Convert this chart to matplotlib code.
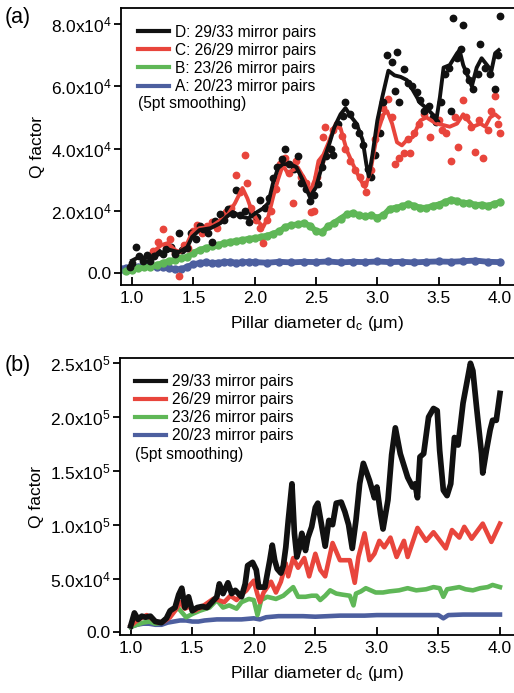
import matplotlib
matplotlib.use("Agg")
import matplotlib.pyplot as plt
from matplotlib.lines import Line2D
import numpy as np

plt.rcParams["font.family"] = ["Liberation Sans", "DejaVu Sans"]
plt.rcParams["mathtext.fontset"] = "custom"
plt.rcParams["mathtext.rm"] = "Liberation Sans"
plt.rcParams["mathtext.it"] = "Liberation Sans:italic"

# ---- panel (a): measured points and 5pt smoothed lines, Q in units of 1e3 ----
d_line_x = [1.00, 1.05, 1.10, 1.17, 1.23, 1.31, 1.38, 1.45, 1.49, 1.55, 1.64, 1.72,
            1.77, 1.82, 1.90, 1.95, 2.02, 2.07, 2.11, 2.15, 2.19, 2.23, 2.29, 2.34,
            2.39, 2.45, 2.50, 2.56, 2.61, 2.65, 2.70, 2.74, 2.79, 2.83, 2.88, 2.91,
            2.93, 2.96, 3.00, 3.04, 3.09, 3.14, 3.19, 3.24, 3.29, 3.35, 3.40, 3.45,
            3.48, 3.51, 3.54, 3.59, 3.65, 3.67, 3.70, 3.74, 3.77, 3.81, 3.85, 3.89,
            3.93, 3.96, 3.99]
d_line_q = [4.0, 5.0, 5.0, 5.0, 6.4, 7.4, 6.7, 8.3, 11.6, 13.8, 14.4, 16.0,
            18.0, 19.6, 18.0, 17.6, 19.6, 20.8, 22.4, 29.0, 33.7, 35.0, 35.0, 34.0,
            30.0, 24.4, 27.6, 36.0, 41.7, 46.9, 51.0, 53.0, 50.0, 48.0, 42.7, 35.0,
            31.0, 38.0, 49.0, 56.5, 65.0, 63.5, 63.0, 62.0, 58.7, 54.6, 53.0, 51.0,
            49.0, 56.5, 66.0, 66.8, 70.6, 71.6, 66.8, 63.0, 60.0, 66.0, 69.0, 67.0,
            65.0, 70.6, 71.6]
d_pts_x = [0.98, 1.00, 1.03, 1.06, 1.09, 1.12, 1.15, 1.18, 1.21, 1.25, 1.28, 1.32,
           1.35, 1.38, 1.41, 1.45, 1.48, 1.52, 1.55, 1.58, 1.62, 1.65, 1.68, 1.72,
           1.75, 1.78, 1.82, 1.85, 1.88, 1.92, 1.95, 1.98, 2.02, 2.04, 2.08, 2.12,
           2.15, 2.18, 2.22, 2.25, 2.28, 2.32, 2.35, 2.38, 2.42, 2.45, 2.48, 2.52,
           2.55, 2.58, 2.62, 2.64, 2.68, 2.72, 2.74, 2.78, 2.82, 2.85, 2.88, 2.92,
           2.95, 2.98, 3.02, 3.05, 3.08, 3.12, 3.14, 3.16, 3.18, 3.22, 3.25, 3.28,
           3.32, 3.35, 3.38, 3.42, 3.45, 3.48, 3.52, 3.55, 3.58, 3.60, 3.62, 3.65,
           3.68, 3.70, 3.72, 3.75, 3.78, 3.82, 3.84, 3.88, 3.92, 3.96, 3.98, 4.00]
d_pts_q = [2.0, 3.2, 8.3, 5.6, 4.0, 5.8, 4.0, 5.4, 6.8, 6.0, 7.8, 8.2,
           6.0, 12.8, 7.4, 8.0, 13.0, 11.0, 15.0, 14.0, 13.0, 10.0, 16.8, 19.0,
           17.0, 20.5, 19.0, 26.6, 18.5, 20.0, 16.5, 19.0, 18.0, 23.4, 21.0, 24.0,
           30.5, 34.0, 36.5, 40.0, 35.0, 33.5, 37.5, 29.0, 27.0, 23.0, 25.0, 28.5,
           34.0, 37.5, 40.0, 38.0, 48.0, 50.5, 55.0, 51.0, 47.5, 45.0, 41.0, 33.5,
           31.0, 38.0, 45.0, 55.0, 70.0, 67.7, 58.4, 71.0, 55.0, 65.5, 61.0, 60.0,
           58.0, 55.5, 52.0, 53.5, 50.0, 48.5, 55.0, 64.0, 66.0, 52.0, 82.0, 69.0,
           72.0, 79.6, 65.0, 62.0, 59.0, 64.0, 73.5, 66.0, 64.0, 59.0, 70.0, 82.5]

c_line_x = [1.19, 1.24, 1.29, 1.35, 1.39, 1.45, 1.49, 1.55, 1.64, 1.70, 1.77, 1.84,
            1.90, 1.94, 1.98, 2.03, 2.07, 2.11, 2.15, 2.19, 2.23, 2.27, 2.31, 2.35,
            2.41, 2.45, 2.49, 2.52, 2.56, 2.60, 2.65, 2.70, 2.75, 2.80, 2.86, 2.90,
            2.94, 3.00, 3.05, 3.08, 3.12, 3.16, 3.20, 3.24, 3.29, 3.35, 3.40, 3.44,
            3.48, 3.54, 3.59, 3.65, 3.70, 3.74, 3.78, 3.84, 3.88, 3.92, 3.96, 3.99]
c_line_q = [7.4, 9.0, 9.6, 7.4, 6.7, 9.6, 13.0, 14.4, 14.8, 16.4, 18.0, 22.5,
            27.3, 24.0, 19.6, 16.4, 14.8, 18.0, 24.4, 30.0, 34.7, 32.0, 33.0, 34.0,
            30.0, 26.0, 30.0, 36.0, 38.0, 41.7, 47.0, 46.5, 39.5, 35.0, 30.0, 27.6,
            32.0, 45.0, 51.0, 52.0, 48.0, 42.0, 41.0, 42.7, 43.7, 49.0, 50.0, 49.0,
            48.0, 47.5, 47.0, 48.0, 51.0, 49.0, 47.0, 48.0, 47.0, 50.0, 51.0, 50.0]
c_pts_x = [1.17, 1.21, 1.25, 1.28, 1.31, 1.35, 1.38, 1.42, 1.46, 1.50, 1.53, 1.57,
           1.61, 1.65, 1.69, 1.73, 1.77, 1.81, 1.85, 1.88, 1.92, 1.94, 1.97, 2.01,
           2.04, 2.07, 2.10, 2.13, 2.17, 2.21, 2.25, 2.28, 2.31, 2.34, 2.38, 2.42,
           2.46, 2.48, 2.51, 2.54, 2.56, 2.57, 2.61, 2.64, 2.67, 2.71, 2.74, 2.78,
           2.82, 2.86, 2.89, 2.91, 2.95, 2.98, 3.02, 3.05, 3.09, 3.12, 3.14, 3.18,
           3.22, 3.25, 3.27, 3.30, 3.34, 3.38, 3.43, 3.46, 3.50, 3.53, 3.56, 3.60,
           3.63, 3.66, 3.70, 3.72, 3.76, 3.80, 3.83, 3.86, 3.90, 3.93, 3.96, 3.98, 4.00]
c_pts_q = [7.0, 10.0, 14.0, 8.0, 11.0, 6.5, -1.0, 9.0, 8.0, 13.5, 15.5, 13.0,
           15.0, 16.5, 14.5, 18.0, 19.5, 21.0, 31.5, 26.0, 37.9, 29.0, 21.0, 17.0,
           14.5, 9.6, 17.0, 20.0, 27.0, 35.0, 37.0, 32.0, 22.5, 36.0, 31.0, 29.0,
           19.6, 20.0, 31.0, 36.0, 43.7, 47.0, 40.0, 46.0, 48.0, 44.0, 40.0, 36.0,
           33.0, 31.0, 28.5, 26.0, 33.0, 43.0, 50.0, 53.0, 56.0, 50.0, 35.0, 37.0,
           38.5, 43.0, 38.5, 45.0, 48.0, 51.0, 43.7, 50.0, 49.0, 46.0, 45.0, 36.0,
           50.0, 40.5, 55.5, 50.0, 47.0, 38.8, 49.0, 37.0, 46.0, 52.0, 57.0, 48.0, 45.0]

b_x = [0.95, 1.00, 1.05, 1.10, 1.15, 1.20, 1.25, 1.30, 1.35, 1.40, 1.45, 1.50,
       1.55, 1.60, 1.65, 1.70, 1.75, 1.80, 1.85, 1.90, 1.95, 2.00, 2.05, 2.10,
       2.15, 2.20, 2.25, 2.30, 2.35, 2.40, 2.45, 2.50, 2.55, 2.60, 2.65, 2.70,
       2.75, 2.80, 2.85, 2.90, 2.95, 3.00, 3.05, 3.10, 3.15, 3.20, 3.25, 3.30,
       3.35, 3.40, 3.45, 3.50, 3.55, 3.60, 3.65, 3.70, 3.75, 3.80, 3.85, 3.90,
       3.95, 4.00]
b_q = [0.5, 1.0, 1.5, 1.8, 2.0, 2.6, 3.2, 3.8, 4.3, 4.8, 5.2, 6.5,
       7.4, 8.0, 8.6, 9.0, 9.6, 10.0, 10.3, 10.6, 11.0, 11.2, 11.6, 12.0,
       12.6, 13.4, 14.8, 15.4, 15.6, 16.0, 15.2, 13.5, 13.2, 15.0, 16.2, 17.5,
       18.8, 19.3, 18.6, 18.2, 18.5, 17.8, 18.6, 20.6, 21.0, 21.4, 22.2, 21.6,
       21.0, 20.9, 21.6, 22.0, 22.8, 23.6, 23.2, 22.4, 22.6, 21.8, 22.0, 21.6,
       22.2, 22.8]

a_x = [0.92, 0.95, 1.00, 1.05, 1.10, 1.15, 1.20, 1.25, 1.30, 1.35, 1.40, 1.45,
       1.50, 1.55, 1.60, 1.65, 1.70, 1.75, 1.80, 1.85, 1.90, 1.95, 2.00, 2.10,
       2.20, 2.30, 2.40, 2.50, 2.60, 2.70, 2.80, 2.90, 3.00, 3.10, 3.20, 3.30,
       3.40, 3.50, 3.60, 3.70, 3.80, 3.90, 4.00]
a_q = [1.2, 1.5, 1.8, 2.0, 2.2, 2.3, 2.0, 1.8, 1.6, 1.2, 1.2, 2.0,
       2.8, 3.2, 3.4, 3.2, 3.3, 3.5, 3.6, 3.3, 3.4, 3.6, 3.5, 3.3,
       3.6, 3.4, 3.6, 3.5, 3.7, 3.4, 3.6, 3.5, 3.7, 3.5, 3.6, 3.4,
       3.6, 3.7, 3.6, 3.8, 4.0, 3.6, 3.5]

# ---- panel (b): 5pt smoothed Q, units of 1e3 ----
k_x = [1.00, 1.03, 1.06, 1.09, 1.12, 1.16, 1.20, 1.25, 1.29, 1.32, 1.36, 1.39,
       1.415, 1.44, 1.47, 1.50, 1.54, 1.58, 1.62, 1.66, 1.70, 1.72, 1.75, 1.79,
       1.82, 1.85, 1.90, 1.93, 1.95, 1.99, 2.02, 2.04, 2.09, 2.13, 2.15, 2.17,
       2.19, 2.22, 2.24, 2.26, 2.28, 2.31, 2.33, 2.35, 2.37, 2.39, 2.42, 2.44,
       2.47, 2.50, 2.52, 2.55, 2.58, 2.61, 2.64, 2.67, 2.71, 2.74, 2.77, 2.80,
       2.83, 2.86, 2.89, 2.94, 2.98, 3.00, 3.03, 3.05, 3.09, 3.12, 3.15, 3.19,
       3.25, 3.29, 3.31, 3.33, 3.35, 3.38, 3.42, 3.46, 3.49, 3.51, 3.54, 3.57,
       3.60, 3.63, 3.66, 3.70, 3.76, 3.78, 3.81, 3.85, 3.86, 3.89, 3.92, 3.94,
       3.97, 4.00]
k_q = [6, 18, 12, 15, 14, 15, 10, 9, 13, 20, 23, 35,
       41, 23, 33, 20, 23, 24, 23, 28, 33, 45, 36, 46,
       36, 39, 33, 45, 62, 65, 58, 42, 42, 67, 81, 67,
       59, 55, 62, 79, 104, 138, 92, 70, 78, 92, 76, 88,
       98, 116, 120, 100, 80, 104, 100, 120, 121, 112, 100, 78,
       104, 138, 157, 141, 125, 135, 110, 96, 123, 165, 190, 166,
       144, 135, 138, 125, 163, 166, 200, 208, 206, 169, 132, 127,
       138, 181, 174, 213, 250, 243, 209, 166, 148, 169, 188, 197,
       197, 222]

r_x = [1.00, 1.04, 1.08, 1.13, 1.18, 1.22, 1.27, 1.32, 1.36, 1.40, 1.44, 1.48,
       1.52, 1.57, 1.62, 1.67, 1.71, 1.76, 1.81, 1.86, 1.90, 1.94, 1.97, 2.00,
       2.03, 2.05, 2.08, 2.11, 2.14, 2.18, 2.22, 2.26, 2.28, 2.32, 2.36, 2.41,
       2.45, 2.50, 2.54, 2.58, 2.64, 2.70, 2.78, 2.82, 2.85, 2.90, 2.94, 2.98,
       3.02, 3.06, 3.11, 3.16, 3.22, 3.25, 3.33, 3.40, 3.46, 3.56, 3.61, 3.67,
       3.71, 3.77, 3.86, 3.93, 4.00]
r_q = [6, 10, 13, 16, 12, 9, 10, 14, 20, 28, 22, 24,
       20, 23, 27, 31, 30, 28, 34, 30, 35, 39, 44, 48,
       35, 28, 37, 42, 47, 37, 47, 64, 52, 69, 60, 69,
       52, 73, 58, 52, 83, 67, 67, 46, 70, 92, 67, 73,
       85, 79, 88, 70, 85, 70, 97, 85, 93, 78, 95, 88,
       98, 87, 101, 84, 101]

g_x = [1.00, 1.05, 1.10, 1.15, 1.20, 1.25, 1.30, 1.33, 1.39, 1.45, 1.50, 1.56,
       1.64, 1.70, 1.75, 1.80, 1.86, 1.90, 1.96, 2.00, 2.03, 2.06, 2.11, 2.18,
       2.24, 2.29, 2.32, 2.36, 2.42, 2.47, 2.51, 2.54, 2.58, 2.62, 2.67, 2.72,
       2.78, 2.81, 2.83, 2.87, 2.91, 2.95, 2.99, 3.05, 3.10, 3.18, 3.25, 3.32,
       3.40, 3.46, 3.51, 3.54, 3.57, 3.62, 3.67, 3.72, 3.78, 3.84, 3.90, 3.94, 4.00]
g_q = [5, 7, 9, 10, 8, 9, 14, 20, 22, 14, 17, 20,
       23, 30, 23, 25, 22, 28, 31, 30, 16, 30, 33, 31,
       34, 39, 42, 33, 33, 34, 34, 30, 34, 39, 36, 35,
       34, 25, 36, 38, 41, 39, 37, 37, 38, 39, 41, 39,
       40, 42, 41, 33, 40, 41, 42, 40, 39, 41, 42, 44, 42]

u_x = [1.00, 1.05, 1.10, 1.15, 1.20, 1.25, 1.30, 1.35, 1.40, 1.45, 1.50, 1.55,
       1.60, 1.70, 1.80, 1.90, 2.00, 2.05, 2.10, 2.20, 2.30, 2.40, 2.50, 2.60,
       2.70, 2.80, 2.90, 3.00, 3.10, 3.20, 3.30, 3.40, 3.50, 3.54, 3.58, 3.70,
       3.80, 3.90, 4.00]
u_q = [5, 7, 8, 8, 7, 7, 9, 10, 11, 11, 10, 10,
       11, 12, 12, 12, 13, 12, 14, 15, 15, 15, 14.5, 15,
       15.5, 15.5, 15.5, 16, 16, 16, 16, 16, 16, 13, 16, 16.5,
       16.5, 16.5, 16.5]

labels_a = ["D: 29/33 mirror pairs", "C: 26/29 mirror pairs",
            "B: 23/26 mirror pairs", "A: 20/23 mirror pairs"]
labels_b = ["29/33 mirror pairs", "26/29 mirror pairs",
            "23/26 mirror pairs", "20/23 mirror pairs"]
yticks_a = [0, 2e4, 4e4, 6e4, 8e4]
yticklabels_a = ["0.0", r"$\mathregular{2.0x10^{4}}$", r"$\mathregular{4.0x10^{4}}$",
                 r"$\mathregular{6.0x10^{4}}$", r"$\mathregular{8.0x10^{4}}$"]
yticks_b = [0, 5e4, 1e5, 1.5e5, 2e5, 2.5e5]
yticklabels_b = ["0.0", r"$\mathregular{5.0x10^{4}}$", r"$\mathregular{1.0x10^{5}}$",
                 r"$\mathregular{1.5x10^{5}}$", r"$\mathregular{2.0x10^{5}}$",
                 r"$\mathregular{2.5x10^{5}}$"]
xticks = [1.0, 1.5, 2.0, 2.5, 3.0, 3.5, 4.0]

BLACK = "#111111"
RED = "#e8453c"
GREEN = "#5fb757"
BLUE = "#4d5f9f"
LEG_FS = 11.2


def k(v):
    return np.array(v) * 1e3


def style_axes(ax, yticks, yticklabels):
    ax.spines["right"].set_visible(False)
    for s in ["left", "bottom", "top"]:
        ax.spines[s].set_linewidth(1.3)
    ax.set_xticks(xticks)
    ax.set_xticklabels(["%.1f" % v for v in xticks])
    ax.set_yticks(yticks)
    ax.set_yticklabels(yticklabels)
    ax.tick_params(axis="x", direction="in", length=6, width=1.3, labelsize=12.5, pad=4)
    ax.tick_params(axis="y", direction="out", length=5, width=1.3, labelsize=12.5, pad=2)
    ax.tick_params(top=False, right=False)
    ax.set_xlabel(r"Pillar diameter d$_\mathregular{c}$ ($\mathregular{\mu}$m)", fontsize=12.5, labelpad=6)
    ax.set_ylabel("Q factor", fontsize=12.5, labelpad=4)


fig = plt.figure(figsize=(5.14, 6.93), dpi=100)
hands = [Line2D([], [], color=c, lw=3) for c in [BLACK, RED, GREEN, BLUE]]

# panel (a)
ax1 = fig.add_axes([121 / 514, 1 - 285 / 693, 393 / 514, 277 / 693])
ax1.plot(a_x, k(a_q), color=BLUE, lw=4.2, marker="o", ms=5, zorder=2)
ax1.plot(b_x, k(b_q), color=GREEN, lw=4.2, marker="o", ms=5, zorder=2)
ax1.plot(c_pts_x, k(c_pts_q), "o", color=RED, ms=4.6, zorder=3)
ax1.plot(d_pts_x, k(d_pts_q), "o", color=BLACK, ms=4.6, zorder=4)
ax1.plot(c_line_x, k(c_line_q), color=RED, lw=2.8, zorder=5)
ax1.plot(d_line_x, k(d_line_q), color=BLACK, lw=2.8, zorder=6)
ax1.set_xlim(0.910, 4.114)
ax1.set_ylim(-3855, 85141)
style_axes(ax1, yticks_a, yticklabels_a)
ax1.legend(hands, labels_a, loc="upper left", bbox_to_anchor=(0.043, 0.94),
           frameon=False, fontsize=LEG_FS, handlelength=2.0, handletextpad=0.4,
           labelspacing=0.2, borderpad=0, borderaxespad=0)
ax1.text(0.043, 0.655, "(5pt smoothing)", transform=ax1.transAxes, fontsize=LEG_FS,
         va="center", ha="left")
fig.text(5 / 514, 1 - 18 / 693, "(a)", fontsize=15.5, va="center", ha="left")

# panel (b)
ax2 = fig.add_axes([120 / 514, 1 - 635 / 693, 394 / 514, 277 / 693])
ax2.plot(u_x, k(u_q), color=BLUE, lw=3.3, solid_joinstyle="round", zorder=2)
ax2.plot(g_x, k(g_q), color=GREEN, lw=3.3, solid_joinstyle="round", zorder=3)
ax2.plot(r_x, k(r_q), color=RED, lw=3.3, solid_joinstyle="round", zorder=4)
ax2.plot(k_x, k(k_q), color=BLACK, lw=4.1, solid_joinstyle="round", zorder=5)
ax2.set_xlim(0.913, 4.114)
ax2.set_ylim(-2500, 254900)
style_axes(ax2, yticks_b, yticklabels_b)
ax2.legend(hands, labels_b, loc="upper left", bbox_to_anchor=(0.038, 0.942),
           frameon=False, fontsize=LEG_FS, handlelength=2.0, handletextpad=0.4,
           labelspacing=0.2, borderpad=0, borderaxespad=0)
ax2.text(0.038, 0.65, "(5pt smoothing)", transform=ax2.transAxes, fontsize=LEG_FS,
         va="center", ha="left")
fig.text(5 / 514, 1 - 366 / 693, "(b)", fontsize=15.5, va="center", ha="left")

fig.savefig("out.png", dpi=100)
